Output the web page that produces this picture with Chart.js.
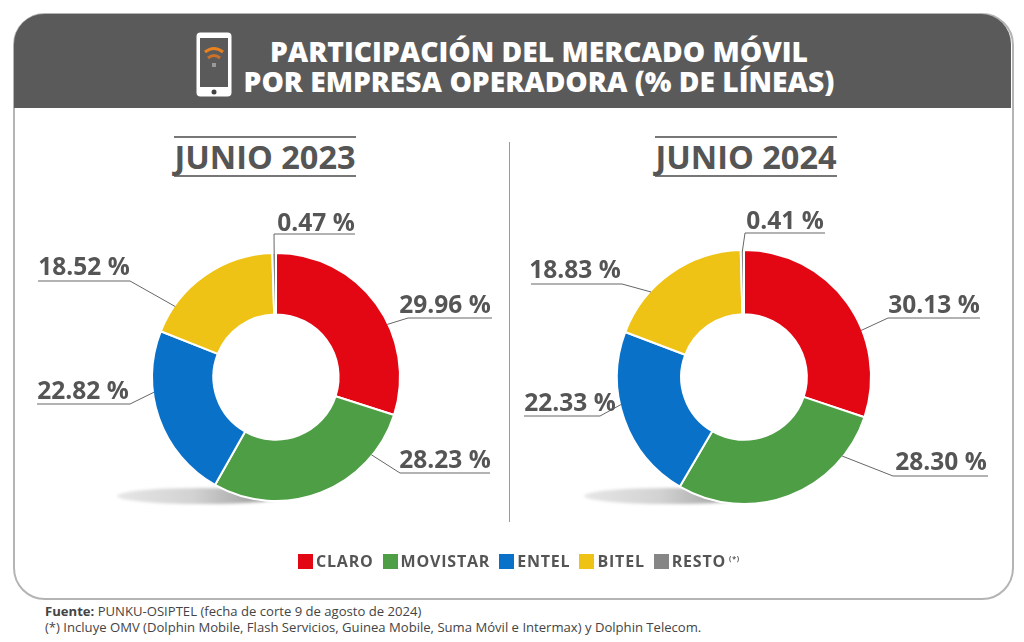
<!DOCTYPE html>
<html lang="es"><head><meta charset="utf-8">
<script src="https://cdn.jsdelivr.net/npm/chart.js@4"></script>
<style>
html,body{margin:0;padding:0;background:#fff;width:1024px;height:642px;overflow:hidden;font-family:"Open Sans",sans-serif}
#card{position:absolute;left:13px;top:13px;width:997px;height:583px;border:2px solid #b4b4b4;border-radius:32px;box-sizing:content-box}
#head{position:absolute;left:14px;top:14px;width:997px;height:94px;background:#5a5a5a;border-radius:30px 30px 0 0}
#title{position:absolute;left:239px;top:36px;width:600px;text-align:center;color:#fff;font-weight:800;font-size:28.2px;line-height:30px;white-space:nowrap}
#phone{position:absolute;left:195px;top:31px}
.yr{position:absolute;top:136px;height:41px;line-height:38px;border-top:2px solid #777;border-bottom:2px solid #777;color:#555;font-weight:700;font-size:32.5px;text-align:center;box-sizing:border-box;white-space:nowrap}
#sep{position:absolute;left:509px;top:142px;width:1px;height:380px;background:#999}
.sh{position:absolute;height:16px;border-radius:50%;background:linear-gradient(90deg,#e6e6e6 0%,#d2d2d2 45%,#a0a0a0 85%,#c8c8c8 100%);filter:blur(1.5px)}
canvas.c{position:absolute;top:130px}
#legend{position:absolute;top:550px;left:298px;display:flex;align-items:center;color:#555;font-weight:700;font-size:16px;letter-spacing:.8px;white-space:nowrap}
#legend i{display:inline-block;width:15px;height:15px;margin-right:3px}
#legend span{margin-right:9px;display:flex;align-items:center}
#legend sup{font-size:7px;margin-left:3px;position:relative;top:-3px}
#src{position:absolute;left:45px;top:603px;color:#444;font-size:13.1px;line-height:16px;white-space:nowrap}
</style></head><body>
<div id="card"></div><div id="head"></div>
<svg id="phone" width="38" height="68" viewBox="0 0 38 68">
<rect x="1.5" y="1.5" width="35" height="64" rx="4" fill="#fff"/>
<rect x="5" y="7" width="28" height="49" fill="#5a5a5a"/>
<path d="M10 21 Q19 14 28 21" stroke="#e8821e" stroke-width="3" fill="none"/>
<path d="M13 27 Q19 22 25 27" stroke="#c9702a" stroke-width="3" fill="none"/>
<rect x="17" y="32" width="4" height="4" fill="#999"/>
<circle cx="19" cy="61" r="2.5" fill="#444"/></svg>
<div id="title">PARTICIPACIÓN DEL MERCADO MÓVIL<br>POR EMPRESA OPERADORA (% DE LÍNEAS)</div>
<div class="yr" style="left:174px;width:182px">JUNIO 2023</div>
<div class="yr" style="left:655px;width:182px">JUNIO 2024</div>
<div id="sep"></div>
<div class="sh" style="left:117px;top:488px;width:170px"></div>
<div class="sh" style="left:584px;top:488px;width:170px"></div>
<canvas class="c" id="a" style="left:0" width="510" height="430"></canvas>
<canvas class="c" id="b" style="left:510px" width="514" height="430"></canvas>
<div id="legend"></div>
<div id="src"><b>Fuente:</b> PUNKU-OSIPTEL (fecha de corte 9 de agosto de 2024)<br>(*) Incluye OMV (Dolphin Mobile, Flash Servicios, Guinea Mobile, Suma Móvil e Intermax) y Dolphin Telecom.</div>
<script>
const operators = ["CLARO","MOVISTAR","ENTEL","BITEL","RESTO"];
const colors = ["#e30613","#4d9e45","#0a71c8","#efc316","#868686"];
const june2023 = [29.96,28.23,22.82,18.52,0.47];
const june2024 = [30.13,28.30,22.33,18.83,0.41];

// Leader layout: fraction along arc, elbow [x,y], end x, label centre [x,y] (canvas pixels)
const leaders2023 = [
 {f:.60,elbow:[408,188],end:492,lab:[445,176]},
 {f:.21,elbow:[400,343],end:490,lab:[445,331]},
 {f:.65,elbow:[130,274],end:37,lab:[83,262]},
 {f:.20,elbow:[130,151],end:38,lab:[84,138]},
 {f:.50,elbow:[274,104],end:355,lab:[316,94]}];
const leaders2024 = [
 {f:.63,elbow:[378,188],end:470,lab:[424,176]},
 {f:.20,elbow:[383,346],end:478,lab:[431,333]},
 {f:.585,elbow:[90,286],end:14,lab:[60,274]},
 {f:.32,elbow:[112,154],end:21,lab:[65,141]},
 {f:.50,elbow:[235,103],end:315,lab:[275,92]}];

document.getElementById('legend').innerHTML = operators.map((n,i)=>
 `<span><i style="background:${colors[i]}"></i>${n}${n==='RESTO'?'<sup>(*)</sup>':''}</span>`).join('');

const leaderPlugin = {
 id:'leaders',
 afterDraw(ch,_,o){
  const c=ch.ctx, arcs=ch.getDatasetMeta(0).data, vals=ch.data.datasets[0].data;
  c.save();
  o.items.forEach((l,i)=>{
   const p=arcs[i].getProps(['x','y','startAngle','endAngle','outerRadius'],true);
   const a=p.startAngle+(p.endAngle-p.startAngle)*l.f;
   const sx=p.x+Math.cos(a)*(p.outerRadius-1), sy=p.y+Math.sin(a)*(p.outerRadius-1);
   c.strokeStyle='#666'; c.lineWidth=1;
   c.beginPath(); c.moveTo(sx,sy); c.lineTo(l.elbow[0],l.elbow[1]); c.lineTo(l.end,l.elbow[1]); c.stroke();
   c.fillStyle='#555'; c.font='700 24.5px "Open Sans"'; c.textAlign='center'; c.textBaseline='middle';
   c.fillText(vals[i].toFixed(2)+' %',l.lab[0],l.lab[1]);
  });
  c.restore();
 }
};
function donut(id,data,items,padding,cutout){
 new Chart(document.getElementById(id),{
  type:'doughnut',
  plugins:[leaderPlugin],
  data:{labels:operators,datasets:[{data,backgroundColor:colors,borderColor:'#fff',borderWidth:2,borderAlign:'center'}]},
  options:{responsive:false,animation:false,cutout,layout:{padding},
   plugins:{legend:{display:false},tooltip:{enabled:false},leaders:{items}}}
 });
}
donut('a',june2023,leaders2023,{left:151,right:109,top:122,bottom:58},'50.5%');
donut('b',june2024,leaders2024,{left:106,right:152,top:119,bottom:55},'49.5%');
</script></body></html>
